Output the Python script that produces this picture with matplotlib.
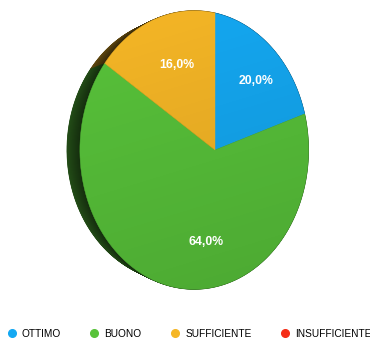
import numpy as np
import matplotlib.pyplot as plt
from matplotlib.patches import Polygon
from matplotlib.lines import Line2D
from matplotlib.colors import to_rgb

categorie = ['OTTIMO', 'BUONO', 'SUFFICIENTE', 'INSUFFICIENTE']
percentuali = [20.0, 64.0, 16.0, 0.0]
colori = ['#14a8f2', '#58c23a', '#f5b626', '#f52d17']

plt.rcParams['font.family'] = ['Liberation Sans', 'DejaVu Sans']

# disco visto in prospettiva (ruotato attorno all'asse verticale)
PHI = np.deg2rad(36.2)
DIST = 3.25
SPESSORE = 0.24
R = 137
CX, CY = 215, 150


def proietta(x, y, z):
    c, s = np.cos(PHI), np.sin(PHI)
    X = x * c + z * s
    Z = -x * s + z * c
    k = DIST / (DIST - Z)
    return CX + X * k * R, CY - y * k * R


def spicchio(t0, t1, z, r=1.0):
    t = np.linspace(t0, t1, 120)
    x = np.concatenate([[0], r * np.cos(t)])
    y = np.concatenate([[0], r * np.sin(t)])
    px, py = proietta(x, y, np.full_like(x, z))
    return np.column_stack([px, py])


fig = plt.figure(figsize=(3.7, 3.4), dpi=100)
ax = fig.add_axes([0, 0, 1, 1])
ax.set_xlim(0, 370)
ax.set_ylim(340, 0)
ax.axis('off')

# angoli degli spicchi: si parte dall'alto in senso orario
angoli = []
inizio = np.pi / 2
for v in percentuali:
    fine = inizio - 2 * np.pi * v / 100
    angoli.append((inizio, fine))
    inizio = fine

# bordo laterale: strati dal retro verso la faccia
strati = np.linspace(-SPESSORE, 0, 40)
for i, z in enumerate(strati):
    f = 0.40 - 0.16 * i / (len(strati) - 1)
    for (t0, t1), col, v in zip(angoli, colori, percentuali):
        if v <= 0:
            continue
        rgb = np.array(to_rgb(col)) * f
        ax.add_patch(Polygon(spicchio(t0, t1, z), closed=True,
                             facecolor=rgb, edgecolor=rgb, lw=0.5))

# faccia anteriore
for (t0, t1), col, v in zip(angoli, colori, percentuali):
    if v <= 0:
        continue
    ax.add_patch(Polygon(spicchio(t0, t1, 0), closed=True,
                         facecolor=col, edgecolor=col, lw=0.3))

# leggera sfumatura di luce sulla faccia
t = np.linspace(0, 2 * np.pi, 400)
fx, fy = proietta(np.cos(t), np.sin(t), np.zeros_like(t))
contorno = Polygon(np.column_stack([fx, fy]), closed=True,
                   facecolor='none', edgecolor='none')
ax.add_patch(contorno)
gy, gx = np.mgrid[0:340, 0:370]
g = (gy - 10) / 280.0 * 0.8 + (gx - 80) / 230.0 * 0.2
luce = np.zeros((340, 370, 4))
luce[..., 3] = np.clip(g, 0, 1) * 0.13
img = ax.imshow(luce, extent=(0, 370, 340, 0), zorder=3, interpolation='bilinear')
img.set_clip_path(contorno)

# etichette percentuali
for (t0, t1), v in zip(angoli, percentuali):
    if v <= 0:
        continue
    tm = (t0 + t1) / 2
    lx, ly = proietta(0.67 * np.cos(tm), 0.67 * np.sin(tm), 0.0)
    ax.text(lx, ly, f'{v:.1f}%'.replace('.', ','), color='white',
            fontsize=8.8, fontweight='bold', ha='center', va='center', zorder=4)

ax.set_xlim(0, 370)
ax.set_ylim(340, 0)

# legenda
maniglie = [Line2D([], [], ls='none', marker='o', markersize=5.5,
                   markerfacecolor=c, markeredgecolor=c) for c in colori]
fig.legend(maniglie, categorie, loc='center', bbox_to_anchor=(190 / 370, 6 / 340),
           ncol=4, frameon=False, fontsize=7.3, handlelength=0.6,
           handletextpad=0.7, columnspacing=3.0, borderpad=0, borderaxespad=0)

fig.savefig('out.png', dpi=100, facecolor='white')
